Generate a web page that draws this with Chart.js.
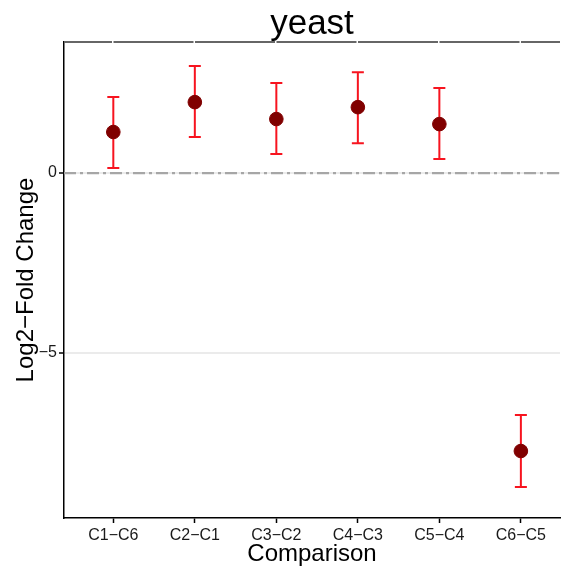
<!DOCTYPE html>
<html>
<head>
<meta charset="utf-8">
<script src="https://cdn.jsdelivr.net/npm/chart.js@4"></script>
<style>
  html, body { margin: 0; padding: 0; background: #fff; }
  #wrap { width: 561px; height: 569px; }
</style>
</head>
<body>
<div id="wrap"><canvas id="chart" width="561" height="569"></canvas></div>
<script>
// datos
const categorias = ['C1\u2212C6', 'C2\u2212C1', 'C3\u2212C2', 'C4\u2212C3', 'C5\u2212C4', 'C6\u2212C5'];
const valores = [1.14, 1.97, 1.50, 1.83, 1.36, -7.72];
const inferior = [0.14, 1.00, 0.53, 0.83, 0.39, -8.72];
const superior = [2.11, 2.97, 2.50, 2.80, 2.36, -6.72];
const yTicks = [-5, 0];
const yMin = -9.58, yMax = 3.64;
const xMin = 0.395, xMax = 6.48;

const puntos = valores.map((v, i) => ({ x: i + 1, y: v }));
const fuente = 'Liberation Sans, Arial, sans-serif';

// barras de error dibujadas con las escalas
const errorBars = {
    id: 'errorBars',
    beforeDatasetsDraw(chart) {
        const ctx = chart.ctx;
        const xs = chart.scales.x, ys = chart.scales.y;
        ctx.save();
        ctx.strokeStyle = '#f7141f';
        ctx.lineWidth = 2;
        valores.forEach((v, i) => {
            const px = xs.getPixelForValue(i + 1);
            const top = ys.getPixelForValue(superior[i]);
            const bot = ys.getPixelForValue(inferior[i]);
            ctx.beginPath();
            ctx.moveTo(px, top); ctx.lineTo(px, bot);
            ctx.moveTo(px - 6, top); ctx.lineTo(px + 6, top);
            ctx.moveTo(px - 6, bot); ctx.lineTo(px + 6, bot);
            ctx.stroke();
        });
        ctx.restore();
    }
};

const ctx = document.getElementById('chart').getContext('2d');
new Chart(ctx, {
    type: 'scatter',
    data: {
        datasets: [
            {
                label: 'cero',
                type: 'line',
                data: [{ x: xMin, y: 0 }, { x: xMax, y: 0 }],
                borderColor: '#a6a6a6',
                borderWidth: 2.2,
                borderDash: [12, 4, 3, 4],
                pointRadius: 0,
                order: 3
            },
            {
                label: 'borde',
                type: 'line',
                data: [{ x: xMin, y: yMax }, { x: xMax, y: yMax }],
                borderColor: '#666666',
                borderWidth: 2,
                borderDash: [80, 1.5],
                borderDashOffset: 32,
                pointRadius: 0,
                clip: 3,
                order: 2
            },
            {
                label: 'valores',
                data: puntos,
                backgroundColor: '#800000',
                borderColor: '#800000',
                pointRadius: 6.8,
                pointHoverRadius: 6.8,
                order: 1
            }
        ]
    },
    options: {
        responsive: false,
        animation: false,
        layout: { autoPadding: false, padding: { left: 12, right: 1, top: 0, bottom: 0 } },
        plugins: {
            legend: { display: false },
            tooltip: { enabled: false },
            title: {
                display: true,
                fullSize: false,
                text: 'yeast',
                color: '#000',
                font: { family: fuente, size: 35, weight: 'normal', lineHeight: 1 },
                padding: { top: 7, bottom: 0 }
            }
        },
        scales: {
            x: {
                type: 'linear',
                min: xMin,
                max: xMax,
                afterBuildTicks: s => { s.ticks = categorias.map((c, i) => ({ value: i + 1 })); },
                afterFit: s => { s.height = 51; s.paddingLeft = 0; s.paddingRight = 0; },
                ticks: {
                    callback: (v) => categorias[v - 1],
                    color: '#1a1a1a',
                    font: { family: fuente, size: 16 },
                    padding: 3,
                    maxRotation: 0,
                    autoSkip: false
                },
                grid: { drawOnChartArea: false, tickLength: 5, tickColor: '#000', tickWidth: 1.5 },
                border: { color: '#000', width: 1.5 },
                title: {
                    display: true,
                    text: 'Comparison',
                    color: '#000',
                    font: { family: fuente, size: 24 },
                    padding: { top: 0, bottom: 0 }
                }
            },
            y: {
                min: yMin,
                max: yMax,
                afterBuildTicks: s => { s.ticks = yTicks.map(v => ({ value: v })); },
                afterFit: s => { s.width = 52; },
                ticks: {
                    callback: v => String(v).replace('-', '\u2212'),
                    color: '#1a1a1a',
                    font: { family: fuente, size: 16 },
                    padding: 2
                },
                grid: {
                    color: '#ebebeb',
                    lineWidth: 2,
                    tickLength: 5,
                    tickColor: '#000',
                    tickWidth: 1.5
                },
                border: { color: '#000', width: 1.5 },
                title: {
                    display: true,
                    text: 'Log2\u2212Fold Change',
                    color: '#000',
                    font: { family: fuente, size: 24 },
                    padding: { top: 0, bottom: 4 }
                }
            }
        }
    },
    plugins: [errorBars]
});
</script>
</body>
</html>
